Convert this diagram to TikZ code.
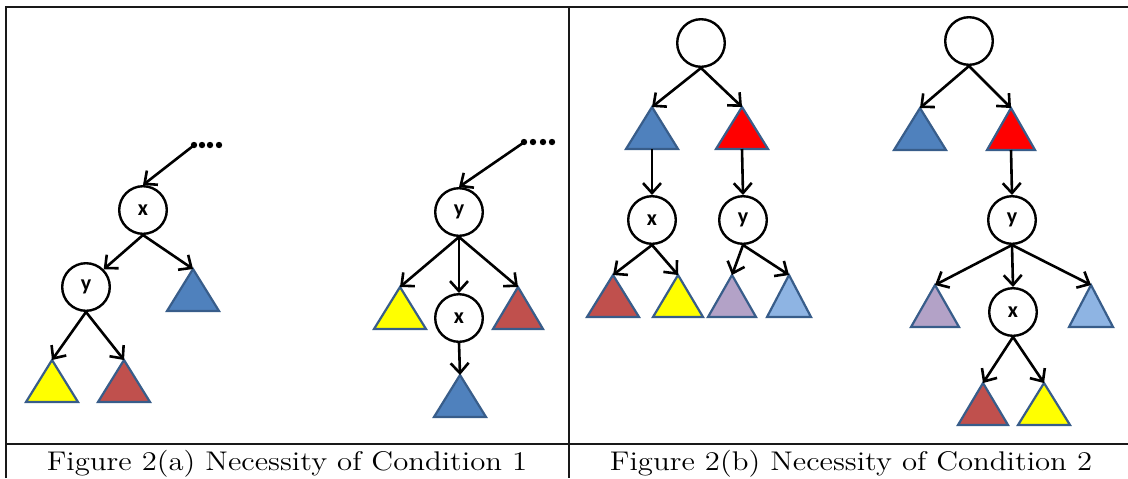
\documentclass[tikz,border=0pt]{standalone}
\usepackage{fontspec}
\newfontfamily\lblfont{Carlito}
\usetikzlibrary{arrows.meta}
\definecolor{cblue}{HTML}{4F81BD}
\definecolor{cbrown}{HTML}{C0504D}
\definecolor{cyellow}{HTML}{FFFF00}
\definecolor{cred}{HTML}{FF0000}
\definecolor{clilac}{HTML}{B3A2C7}
\definecolor{clightblue}{HTML}{8EB4E3}
\definecolor{triborder}{HTML}{385D8A}
\tikzset{
  circnode/.style={circle, draw=black, line width=1.2pt, minimum size=23.8pt, inner sep=0pt,
    font=\lblfont\bfseries\fontsize{11}{11}\selectfont},
  arrowline/.style={line width=1.3pt, -{Straight Barb[length=5pt,width=9pt,line width=1.3pt]}},
  tripath/.style={draw=triborder, line width=1.1pt},
  tabrule/.style={line width=1.3pt, draw=black!90},
  captext/.style={anchor=base, inner sep=0pt, font=\fontsize{13.5}{16}\selectfont},
  dotfill/.style={fill=black}
}
% #1 name, #2 apex x, #3 apex y, #4 half width, #5 fill colour
\newcommand\tri[5]{%
  \coordinate (#1) at (#2,#3);
  \coordinate (#1b) at (#2,{#3+42});
  \draw[tripath,fill=#5] (#1) -- ++(-#4,42) -- ++({2*#4},0) -- cycle;
}
\begin{document}
\begin{tikzpicture}[x=0.5pt,y=-0.5pt]
\useasboundingbox (0,0) rectangle (1128,478);
% table rules
\draw[tabrule] (6,478) -- (6,7) -- (1128,7);
\draw[tabrule] (569,7) -- (569,478);
\draw[tabrule] (6,444) -- (1128,444);
% captions
\node[captext] (capa) at (287,470) {\scalebox{1.14}[1]{Figure 2(a) Necessity of Condition 1}};
\node[captext] (capb) at (851,470) {\scalebox{1.14}[1]{Figure 2(b) Necessity of Condition 2}};

% ---------- panel (a), left tree ----------
\foreach \dx in {194,202,210,219} \fill[dotfill] (\dx,145) circle (1.6pt);
\coordinate (da) at (193,146);
\node[circnode] (xa) at (143,210) {x};
\node[circnode] (ya) at (86,287) {y};
\tri{ta1}{193}{269}{26}{cblue}
\tri{ta2}{52}{360}{26}{cyellow}
\tri{ta3}{124}{360}{26}{cbrown}
\draw[arrowline] (da) -- (xa.north);
\draw[arrowline] (xa.south) -- (ya.north east);
\draw[arrowline] (xa.south) -- (ta1);
\draw[arrowline] (ya.south) -- (ta2);
\draw[arrowline] (ya.south) -- (ta3);

% ---------- panel (a), right tree ----------
\foreach \dx in {524,533,543,552} \fill[dotfill] (\dx,142) circle (1.6pt);
\coordinate (db) at (523,143);
\node[circnode] (yb) at (459,212) {y};
\node[circnode] (xb) at (459,318) {x};
\tri{tb1}{400}{287}{26}{cyellow}
\tri{tb2}{518}{287}{25}{cbrown}
\tri{tb3}{460}{375}{26}{cblue}
\draw[arrowline] (db) -- (yb.north);
\draw[arrowline] (yb.south) -- (tb1);
\draw[arrowline] (yb.south) -- (xb.north);
\draw[arrowline] (yb.south) -- (tb2);
\draw[arrowline] (xb.south) -- (tb3);

% ---------- panel (b), left tree ----------
\node[circnode] (rc) at (701,43) {};
\tri{tc1}{652}{107}{26}{cblue}
\tri{tc2}{742}{107}{26}{cred}
\node[circnode] (xc) at (652,220) {x};
\node[circnode] (yc) at (743,220) {y};
\tri{tc3}{613}{275}{26}{cbrown}
\tri{tc4}{678}{275}{25}{cyellow}
\tri{tc5}{732}{275}{24}{clilac}
\tri{tc6}{789}{275}{22}{clightblue}
\draw[arrowline] (rc.south) -- (tc1);
\draw[arrowline] (rc.south) -- (tc2);
\draw[arrowline] (tc1b) -- (xc.north);
\draw[arrowline] (tc2b) -- (yc.north);
\draw[arrowline] (xc.south) -- (tc3);
\draw[arrowline] (xc.south) -- (tc4);
\draw[arrowline] (yc.south) -- (tc5);
\draw[arrowline] (yc.south) -- (tc6);

% ---------- panel (b), right tree ----------
\node[circnode] (rd) at (969,41) {};
\tri{td1}{920}{108}{26}{cblue}
\tri{td2}{1011}{108}{24}{cred}
\node[circnode] (yd) at (1012,220) {y};
\node[circnode] (xd) at (1013,312) {x};
\tri{td3}{935}{285}{24}{clilac}
\tri{td4}{1091}{285}{22}{clightblue}
\tri{td5}{983}{383}{25}{cbrown}
\tri{td6}{1044}{383}{26}{cyellow}
\draw[arrowline] (rd.south) -- (td1);
\draw[arrowline] (rd.south) -- (td2);
\draw[arrowline] (td2b) -- (yd.north);
\draw[arrowline] (yd.south) -- (td3);
\draw[arrowline] (yd.south) -- (xd.north);
\draw[arrowline] (yd.south) -- (td4);
\draw[arrowline] (xd.south) -- (td5);
\draw[arrowline] (xd.south) -- (td6);
\end{tikzpicture}
\end{document}
